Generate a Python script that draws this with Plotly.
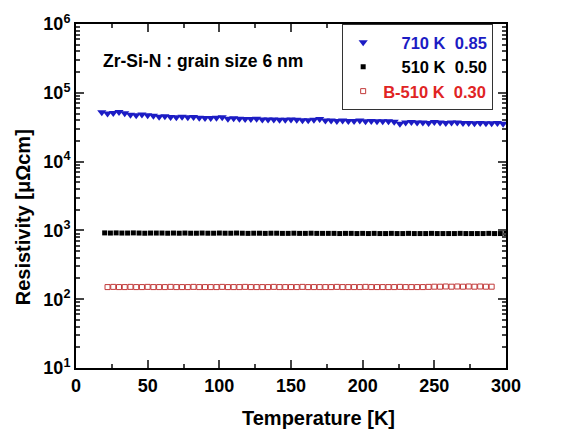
import plotly.graph_objects as go

# ---- data ----
temp_710 = [18, 22, 26, 30, 34, 38, 42, 46, 50, 54, 58, 62, 66, 70, 74, 78, 82, 86, 90, 94,
            98, 102, 106, 110, 114, 118, 122, 126, 130, 134, 138, 142, 146, 150, 154, 158,
            162, 166, 170, 174, 178, 182, 186, 190, 194, 198, 202, 206, 210, 214, 218, 222,
            226, 230, 234, 238, 242, 246, 250, 254, 258, 262, 266, 270, 274, 278, 282, 286,
            290, 294, 298]
rho_710 = [52000, 50000, 51000, 52500, 50500, 48000, 47000, 48500, 47000, 46500,
           45000, 45500, 44500, 44000, 45000, 44000, 44500, 43500, 43000, 43000,
           43500, 44000, 42000, 42500, 42000, 41500, 41500, 42000, 41000, 41000,
           41000, 40500, 40500, 41000, 40500, 40000, 40000, 40500, 41500, 39500,
           39500, 39000, 39500, 39000, 39000, 39500, 38500, 39000, 38500, 38500,
           38500, 38000, 35500, 37000, 37500, 37000, 37000, 36500, 37500, 37000,
           36500, 37000, 37000, 36500, 36500, 36000, 36500, 36000, 36000, 36500, 35500]

temp_510 = [20, 24, 28, 32, 36, 40, 44, 48, 52, 56, 60, 64, 68, 72, 76, 80, 84, 88, 92, 96,
            100, 104, 108, 112, 116, 120, 124, 128, 132, 136, 140, 144, 148, 152, 156, 160,
            164, 168, 172, 176, 180, 184, 188, 192, 196, 200, 204, 208, 212, 216, 220, 224,
            228, 232, 236, 240, 244, 248, 252, 256, 260, 264, 268, 272, 276, 280, 284, 288,
            292, 296, 300]
rho_510 = [920, 915, 920, 915, 915, 920, 915, 910, 915, 915,
           915, 910, 915, 910, 915, 910, 910, 915, 910, 910,
           915, 910, 910, 915, 910, 905, 910, 910, 905, 910,
           910, 905, 905, 910, 905, 905, 910, 905, 905, 905,
           905, 900, 905, 905, 900, 905, 900, 905, 900, 900,
           905, 900, 900, 905, 900, 900, 900, 905, 900, 900,
           900, 900, 905, 900, 900, 900, 900, 905, 900, 900, 905]

temp_b510 = [22, 26, 30, 34, 38, 42, 46, 50, 54, 58, 62, 66, 70, 74, 78, 82, 86, 90, 94, 98,
             102, 106, 110, 114, 118, 122, 126, 130, 134, 138, 142, 146, 150, 154, 158, 162,
             166, 170, 174, 178, 182, 186, 190, 194, 198, 202, 206, 210, 214, 218, 222, 226,
             230, 234, 238, 242, 246, 250, 254, 258, 262, 266, 270, 274, 278, 282, 286, 290]
rho_b510 = [150, 151, 150, 150, 151, 150, 150, 151, 150, 150,
            150, 151, 150, 150, 150, 151, 150, 150, 150, 150,
            151, 150, 150, 150, 151, 150, 150, 150, 150, 151,
            150, 150, 150, 150, 151, 150, 150, 150, 150, 150,
            151, 150, 150, 150, 150, 151, 150, 150, 150, 150,
            150, 151, 150, 150, 150, 150, 151, 152, 152, 153,
            152, 153, 152, 153, 152, 153, 152, 152]

y_tick_vals = [10, 100, 1000, 10000, 100000, 1000000]
y_tick_text = ["10<sup>1</sup>", "10<sup>2</sup>", "10<sup>3</sup>",
               "10<sup>4</sup>", "10<sup>5</sup>", "10<sup>6</sup>"]
x_tick_vals = [0, 50, 100, 150, 200, 250, 300]

FONT = "Liberation Sans, Arial, sans-serif"
BLUE = "#1c1cc4"
RED_TXT = "#e02424"
RED_MK = "#c23a3a"
NB = "&nbsp;"

fig = go.Figure()
fig.add_trace(go.Scatter(
    x=temp_710, y=rho_710, mode="markers",
    marker=dict(symbol="triangle-down", size=8, color=BLUE, line=dict(width=0)),
    name="<span style='color:%s'>%s710 K%s0.85</span>" % (BLUE, NB * 4, NB * 2)))
fig.add_trace(go.Scatter(
    x=temp_510, y=rho_510, mode="markers",
    marker=dict(symbol="square", size=5, color="black", line=dict(width=0)),
    name="<span style='color:black'>%s510 K%s0.50</span>" % (NB * 4, NB * 2)))
fig.add_trace(go.Scatter(
    x=temp_b510, y=rho_b510, mode="markers",
    marker=dict(symbol="square-open", size=5, color=RED_MK, line=dict(width=1, color=RED_MK)),
    name="<span style='color:%s'>B-510 K%s0.30</span>" % (RED_TXT, NB * 2)))

minor_y = [m * 10 ** e for e in range(1, 6) for m in range(2, 10)]

L, T, PW, PH = 76, 21, 430, 347

fig.update_layout(
    width=574, height=437,
    margin=dict(l=L, r=574 - L - PW, t=T, b=437 - T - PH),
    paper_bgcolor="white", plot_bgcolor="white",
    font=dict(family=FONT, size=17, color="black"),
    showlegend=True,
    legend=dict(x=0.619, y=1.0, xanchor="left", yanchor="top",
                bordercolor="#333333", borderwidth=1, bgcolor="white",
                font=dict(family=FONT, size=16.5, weight="bold"),
                itemsizing="trace", tracegroupgap=0),
    xaxis=dict(range=[0, 300], tickvals=x_tick_vals, ticks="inside", ticklen=8,
               tickwidth=2, showline=True, linewidth=2, linecolor="black",
               mirror="ticks", showgrid=False, zeroline=False,
               tickfont=dict(family=FONT, size=18, weight="bold"),
               minor=dict(tickvals=[25, 75, 125, 175, 225, 275], ticks="inside",
                          ticklen=4, tickwidth=1.5, showgrid=False)),
    yaxis=dict(type="log", range=[1, 6], tickvals=y_tick_vals, ticktext=y_tick_text,
               ticks="inside", ticklen=8, tickwidth=2, showline=True, linewidth=2,
               linecolor="black", mirror="ticks", showgrid=False, zeroline=False,
               tickfont=dict(family=FONT, size=18, weight="bold"),
               minor=dict(tickvals=minor_y, ticks="inside", ticklen=4, tickwidth=1.5,
                          showgrid=False)),
    annotations=[
        dict(text="<b>Zr-Si-N : grain size 6 nm</b>", xref="paper", yref="paper",
             x=(101 - L) / PW, y=1 - (58 - T) / PH, xanchor="left", yanchor="middle",
             showarrow=False, font=dict(size=17.5)),
        dict(text="<b>Temperature [K]</b>", xref="paper", yref="paper",
             x=(318 - L) / PW, y=1 - (418 - T) / PH, xanchor="center", yanchor="middle",
             showarrow=False, font=dict(size=20)),
        dict(text="<b>Resistivity [μΩcm]</b>", xref="paper", yref="paper",
             x=(23 - L) / PW, y=1 - (216 - T) / PH, xanchor="center", yanchor="middle",
             textangle=-90, showarrow=False, font=dict(size=20)),
    ],
)

fig.write_html("out.html", config={"displayModeBar": False},
               post_script="document.body.style.margin='0';")
